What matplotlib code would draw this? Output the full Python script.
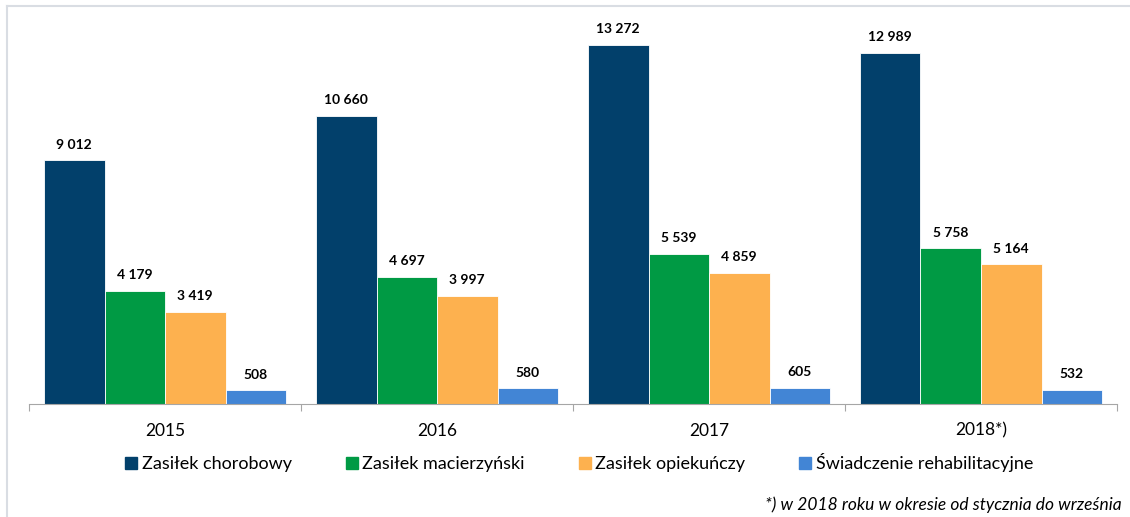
import matplotlib.pyplot as plt
from matplotlib.lines import Line2D
import numpy as np

plt.rcParams["font.family"] = ["Lato", "DejaVu Sans"]

years = ["2015", "2016", "2017", "2018*)"]
series_names = [
    "Zasiłek chorobowy",
    "Zasiłek macierzyński",
    "Zasiłek opiekuńczy",
    "Świadczenie rehabilitacyjne",
]
chorobowy = [9012, 10660, 13272, 12989]
macierzynski = [4179, 4697, 5539, 5758]
opiekunczy = [3419, 3997, 4859, 5164]
rehabilitacyjne = [508, 580, 605, 532]
colors = ["#02406B", "#009A44", "#FDB14F", "#4285D5"]

series = [chorobowy, macierzynski, opiekunczy, rehabilitacyjne]

fig = plt.figure(figsize=(11.3, 5.17), dpi=100)
ax = fig.add_axes([0.0257, 0.2186, 0.9628, 0.7427])

x = np.arange(len(years))
width = 0.2225
for i, (vals, name, c) in enumerate(zip(series, series_names, colors)):
    pos = x + (i - 1.5) * width
    bars = ax.bar(pos, vals, width=width, color=c, label=name, edgecolor="white", linewidth=0.6)
    for b, v in zip(bars, vals):
        ax.annotate(
            f"{v:,}".replace(",", " "),
            (b.get_x() + b.get_width() / 2, v),
            xytext=(0, 7),
            textcoords="offset points",
            ha="center",
            va="bottom",
            fontsize=10,
            fontweight="bold",
        )

ax.set_xlim(-0.5, len(years) - 0.5)
ax.set_ylim(0, 14200)
ax.set_yticks([])
for s in ["top", "right", "left"]:
    ax.spines[s].set_visible(False)
ax.spines["bottom"].set_color("#A6A6A6")
ax.set_xticks(np.arange(-0.5, len(years)), minor=False)
ax.set_xticklabels([])
ax.tick_params(axis="x", length=5, color="#A6A6A6")
for xi, lab in zip(x, years):
    ax.text(xi, -0.07, lab, transform=ax.get_xaxis_transform(), ha="center", va="center", fontsize=12.5)

handles = [
    Line2D([], [], marker="s", linestyle="none", markersize=8, markerfacecolor=c, markeredgecolor=c)
    for c in colors
]
fig.legend(
    handles,
    series_names,
    loc="center",
    bbox_to_anchor=(0.512, 0.105),
    ncol=4,
    frameon=False,
    fontsize=13,
    handlelength=0.8,
    handletextpad=0.2,
    columnspacing=2.9,
)

fig.text(0.993, 0.023, "*) w 2018 roku w okresie od stycznia do września",
         ha="right", va="center", fontsize=12.5, style="italic")

# light frame lines (top and left)
fig.add_artist(Line2D([7 / 1130, 1], [1 - 5.5 / 517] * 2, color="#D9DDE3", linewidth=1.5))
fig.add_artist(Line2D([7 / 1130] * 2, [0, 1 - 5.5 / 517], color="#D9DDE3", linewidth=1.5))

fig.savefig("out.png", dpi=100)
